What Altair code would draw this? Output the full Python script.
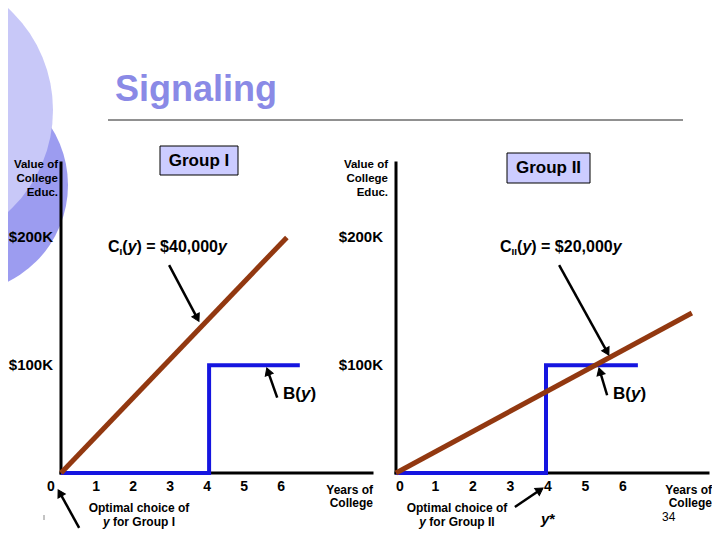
import altair as alt
import pandas as pd

FONT = "Liberation Sans"

# ---------------- data ----------------
x_tick_values = [0, 1, 2, 3, 4, 5, 6]
y_tick_values = [100000, 200000]
y_tick_labels = ["$100K", "$200K"]

# benefit step B(y) (same for both groups)
b_years = [0, 4, 4, 6.45]
b_values = [0, 0, 100000, 100000]

# cost lines as drawn
c1_years = [0, 6.1]
c1_values = [0, 200000]
c2_years = [0, 7.89]
c2_values = [0, 142000]

left_x_max = 8.4
right_x_max = 8.32
y_max = 255000

# annotation arrows: tail year, tail value, head year, head value
left_arrow_tail_x = [2.92, 5.84, 0.49]
left_arrow_tail_y = [179000, 73000, -55000]
left_arrow_head_x = [3.68, 5.59, -0.03]
left_arrow_head_y = [138000, 95000, -22500]
left_arrow_angle = [152, 340, 331]

right_arrow_tail_x = [4.35, 5.63, 3.17]
right_arrow_tail_y = [179000, 75000, -36000]
right_arrow_head_x = [5.63, 5.44, 3.84]
right_arrow_head_y = [111000, 95000, -19500]
right_arrow_angle = [151, 343, 56]

# ---------------- styles ----------------
BLUE = "#1515E0"
BROWN = "#923810"
TITLE = "#8A8AE6"
BOXFILL = "#CCCCFF"

XL = alt.Scale(domain=[0, left_x_max], range=[53, 364], nice=False, zero=False)
XR = alt.Scale(domain=[0, right_x_max], range=[388, 700], nice=False, zero=False)
YS = alt.Scale(type="pow", exponent=1.13, domain=[0, y_max], range=[465, 155], nice=False)

W = {' ': 278, '(': 333, ')': 333, '=': 584, '$': 556, ',': 278, '*': 389,
     'C': 722, 'I': 278, 'B': 722, 'y': 556, 'f': 333, 'o': 611, 'r': 389,
     'G': 778, 'u': 611, 'p': 611}
for d in "0123456789":
    W[d] = 556


def tw(text, size):
    return sum(W.get(c, 600) for c in text) * size / 1000.0


def txt(text, x, y, size, align="left", weight="bold", style="normal",
        color="black", baseline="middle", dy=0):
    return alt.Chart(pd.DataFrame({"t": [text]})).mark_text(
        align=align, baseline=baseline, font=FONT, fontSize=size,
        fontWeight=weight, fontStyle=style, color=color, dy=dy
    ).encode(text="t:N", x=alt.value(x), y=alt.value(y))


def rich_width(parts, size):
    total = 0
    for text, italic, sub in parts:
        total += tw(text, size * 0.62 if sub else size)
    return total


def rich(parts, x0, yc, size):
    out = []
    x = x0
    for text, italic, sub in parts:
        s = size * 0.62 if sub else size
        while text.startswith(" "):
            x += tw(" ", s)
            text = text[1:]
        out.append(txt(text, x, yc, s, style="italic" if italic else "normal",
                       dy=size * 0.32 if sub else 0))
        x += tw(text, s)
    return out


def panel(xs, xmax, c_years, c_values, ax, ay, hx, hy, ang, zero_dx, tick_dx):
    layers = []
    axes = pd.DataFrame({"x": [0], "x2": [xmax], "y": [0], "y2": [y_max]})
    layers.append(alt.Chart(axes).mark_rule(color="black", strokeWidth=3, strokeCap="square").encode(
        x=alt.X("x:Q", scale=xs, axis=None), x2="x2:Q",
        y=alt.Y("y:Q", scale=YS, axis=None)))
    layers.append(alt.Chart(axes).mark_rule(color="black", strokeWidth=3, strokeCap="square").encode(
        x=alt.X("x:Q", scale=xs, axis=None),
        y=alt.Y("y:Q", scale=YS, axis=None), y2="y2:Q"))
    bdf = pd.DataFrame({"yr": b_years, "v": b_values, "i": list(range(len(b_years)))})
    layers.append(alt.Chart(bdf).mark_line(color=BLUE, strokeWidth=4, strokeJoin="miter").encode(
        x=alt.X("yr:Q", scale=xs, axis=None),
        y=alt.Y("v:Q", scale=YS, axis=None), order="i:Q"))
    cdf = pd.DataFrame({"yr": c_years, "v": c_values})
    layers.append(alt.Chart(cdf).mark_line(color=BROWN, strokeWidth=5).encode(
        x=alt.X("yr:Q", scale=xs, axis=None),
        y=alt.Y("v:Q", scale=YS, axis=None)))
    adf = pd.DataFrame({"tx": ax, "ty": ay, "hx": hx, "hy": hy})
    layers.append(alt.Chart(adf).mark_rule(color="black", strokeWidth=2.5).encode(
        x=alt.X("tx:Q", scale=xs, axis=None), x2="hx:Q",
        y=alt.Y("ty:Q", scale=YS, axis=None), y2="hy:Q"))
    for i in range(len(hx)):
        one = pd.DataFrame({"hx": [hx[i]], "hy": [hy[i]]})
        layers.append(alt.Chart(one).mark_point(
            shape="triangle-up", filled=True, fill="black", stroke="black", strokeWidth=1,
            size=70, opacity=1, angle=ang[i]).encode(
            x=alt.X("hx:Q", scale=xs, axis=None),
            y=alt.Y("hy:Q", scale=YS, axis=None)))
    tdf = pd.DataFrame({"v": x_tick_values, "t": [str(v) for v in x_tick_values]})
    layers.append(alt.Chart(tdf).transform_filter("datum.v > 0").mark_text(
        font=FONT, fontSize=14, fontWeight="bold", baseline="middle", color="black", dx=tick_dx).encode(
        x=alt.X("v:Q", scale=xs, axis=None), y=alt.value(479), text="t:N"))
    layers.append(alt.Chart(tdf).transform_filter("datum.v == 0").mark_text(
        font=FONT, fontSize=14, fontWeight="bold", baseline="middle", color="black", dx=zero_dx).encode(
        x=alt.X("v:Q", scale=xs, axis=None), y=alt.value(479), text="t:N"))
    return layers


layers = []
# background circles
layers.append(alt.Chart(pd.DataFrame({"t": ["c"]})).mark_point(
    shape="circle", filled=True, color="#9C9CF0", opacity=1, size=46656
).encode(x=alt.value(-48), y=alt.value(177)))
layers.append(alt.Chart(pd.DataFrame({"t": ["c"]})).mark_point(
    shape="circle", filled=True, color="#C8C8F8", opacity=1, size=76176
).encode(x=alt.value(-93), y=alt.value(102)))

# title and rule
layers.append(txt("Signaling", 107, 93, 36, color=TITLE, baseline="alphabetic"))
layers.append(alt.Chart(pd.DataFrame({"t": ["r"]})).mark_rule(color="#222222", strokeWidth=1).encode(
    x=alt.value(100), x2=alt.value(675), y=alt.value(112)))

# group boxes
for (x1, x2, y1, y2, label) in [(152, 230, 138, 167, "Group I"), (499, 582, 145, 175, "Group II")]:
    layers.append(alt.Chart(pd.DataFrame({"t": [label]})).mark_rect(
        fill=BOXFILL, stroke="black", strokeWidth=1).encode(
        x=alt.value(x1), x2=alt.value(x2), y=alt.value(y1), y2=alt.value(y2)))
    layers.append(txt(label, (x1 + x2) / 2, (y1 + y2) / 2, 17, align="center"))

# panels
layers += panel(XL, left_x_max, c1_years, c1_values,
                left_arrow_tail_x, left_arrow_tail_y, left_arrow_head_x, left_arrow_head_y,
                left_arrow_angle, -10, -2)
layers += panel(XR, right_x_max, c2_years, c2_values,
                right_arrow_tail_x, right_arrow_tail_y, right_arrow_head_x, right_arrow_head_y,
                right_arrow_angle, 4, 2)

# y tick labels
for xpos in [45, 375]:
    ydf = pd.DataFrame({"v": y_tick_values, "t": y_tick_labels})
    layers.append(alt.Chart(ydf).mark_text(font=FONT, fontSize=15, fontWeight="bold", align="right",
                                           baseline="middle", color="black").encode(
        x=alt.value(xpos), y=alt.Y("v:Q", scale=YS, axis=None), text="t:N"))

# axis titles
for xr in [50, 380]:
    for line, yy in zip(["Value of", "College", "Educ."], [157, 171, 185]):
        layers.append(txt(line, xr, yy, 11.5, align="right"))
for xr in [365, 704]:
    for line, yy in zip(["Years of", "College"], [482, 495]):
        layers.append(txt(line, xr, yy, 12, align="right"))

# cost formula labels
layers += rich([("C", False, False), ("I", False, True), ("(", False, False), ("y", True, False),
                (") = $40,000", False, False), ("y", True, False)], 100, 239, 16)
layers += rich([("C", False, False), ("II", False, True), ("(", False, False), ("y", True, False),
                (") = $20,000", False, False), ("y", True, False)], 492, 239, 16)

# B(y) labels
for x0 in [275, 605]:
    layers += rich([("B(", False, False), ("y", True, False), (")", False, False)], x0, 386, 17)

# optimal choice notes
for cx, grp in [(131, "Group I"), (449, "Group II")]:
    layers.append(txt("Optimal choice of", cx, 500, 12, align="center"))
    parts = [("y", True, False), (" for " + grp, False, False)]
    layers += rich(parts, cx - rich_width(parts, 12) / 2, 514, 12)

layers += rich([("y", True, False), ("*", False, False)], 533, 511, 15)
layers.append(txt("34", 654, 509, 12, weight="normal"))

# small stray tick at lower left of the slide
layers.append(alt.Chart(pd.DataFrame({"t": ["s"]})).mark_rule(color="#888888", strokeWidth=1).encode(
    x=alt.value(36), y=alt.value(507), y2=alt.value(512)))

chart = alt.layer(*layers).resolve_scale(x="independent", y="independent").properties(
    width=704, height=524, autosize=alt.AutoSizeParams(type="none"), padding=0
).configure_view(stroke=None)

chart.save("out.html", embed_options={"renderer": "svg", "actions": False})
